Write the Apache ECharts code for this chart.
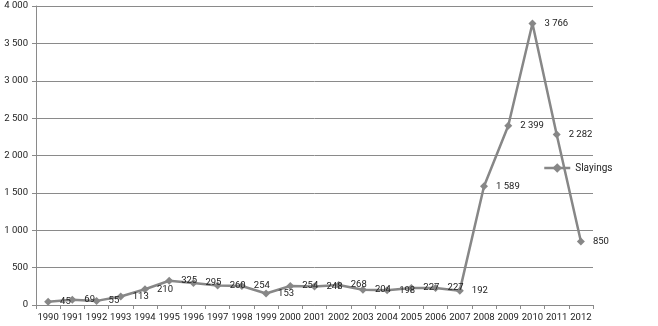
<!DOCTYPE html>
<html><head><meta charset="utf-8">
<script src="https://cdn.jsdelivr.net/npm/echarts@6/dist/echarts.min.js"></script>
<style>html,body{margin:0;padding:0;background:#fff}#c{width:658px;height:326px}</style>
</head><body><div id="c"></div>
<script>
const years = ['1990','1991','1992','1993','1994','1995','1996','1997','1998','1999','2000','2001','2002','2003','2004','2005','2006','2007','2008','2009','2010','2011','2012'];
const slayings = [45,69,55,113,210,325,295,260,254,153,254,248,268,204,198,227,227,192,1589,2399,3766,2282,850];
const seriesName = 'Slayings';
const fmt = v => String(v).replace(/\B(?=(\d{3})+(?!\d))/g, ' ');
const font = 'Roboto';
const chart = echarts.init(document.getElementById('c'));
chart.setOption({
  animation: false,
  grid: {left: 36, right: 65, top: 6, bottom: 21, containLabel: false},
  legend: {
    data: [seriesName],
    left: 538, top: 158, orient: 'vertical',
    itemWidth: 26, itemHeight: 12, itemGap: 4,
    lineStyle: {width: 2.5},
    itemStyle: {color: '#878787'},
    textStyle: {fontFamily: font, fontSize: 10, color: '#222'}
  },
  xAxis: {
    type: 'category', data: years, boundaryGap: true,
    axisLine: {lineStyle: {color: '#8a8a8a', width: 1}},
    axisTick: {show: true, length: 4, lineStyle: {color: '#8a8a8a'}},
    axisLabel: {fontFamily: font, fontSize: 9.5, color: '#222', margin: 8, interval: 0}
  },
  yAxis: {
    type: 'value', min: 0, max: 4000, interval: 500,
    axisLine: {show: true, lineStyle: {color: '#8a8a8a'}},
    axisTick: {show: true, length: 4, inside: false, lineStyle: {color: '#8a8a8a'}},
    splitLine: {lineStyle: {color: '#8a8a8a', width: 1}},
    axisLabel: {fontFamily: font, fontSize: 9.5, color: '#222', margin: 8, formatter: v => fmt(v)}
  },
  series: [{
    name: seriesName, type: 'line', data: slayings,
    symbol: 'diamond', symbolSize: 8,
    lineStyle: {color: '#878787', width: 2.5},
    itemStyle: {color: '#878787'},
    label: {show: true, position: 'right', distance: 8, fontFamily: font, fontSize: 9.5, color: '#222', formatter: p => fmt(p.value)}
  }]
});
</script></body></html>
